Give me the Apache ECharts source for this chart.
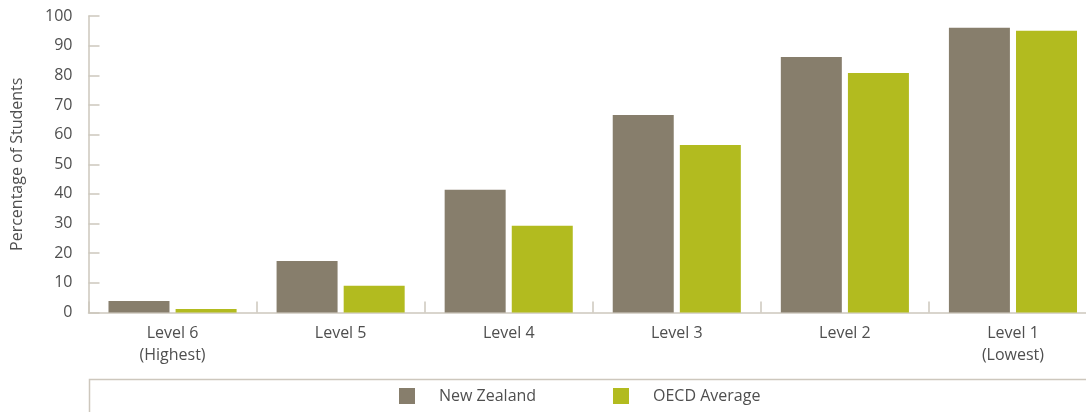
<!DOCTYPE html>
<html>
<head>
<meta charset="utf-8">
<script src="https://cdn.jsdelivr.net/npm/echarts@6/dist/echarts.min.js"></script>
<style>
  html, body { margin: 0; padding: 0; background: #ffffff; overflow: hidden; }
  #chart { width: 1086px; height: 412px; }
</style>
</head>
<body>
<div id="chart"></div>
<script>
// Proficiency levels, highest to lowest
const categories = ['Level 6\n(Highest)', 'Level 5', 'Level 4', 'Level 3', 'Level 2', 'Level 1\n(Lowest)'];
// Cumulative percentage of students at or above each level
const newZealand = [3.9, 17.4, 41.4, 66.6, 86.2, 96.0];
const oecdAverage = [1.2, 9.0, 29.3, 56.5, 80.8, 95.0];
const seriesNames = ['New Zealand', 'OECD Average'];
const yTicks = { min: 0, max: 100, interval: 10 };

const axisColor = '#cdc7bd';
const textColor = '#4f4f4f';
const font = '"Open Sans", sans-serif';
const fontSize = 16;

const chart = echarts.init(document.getElementById('chart'), null, { renderer: 'canvas' });

chart.setOption({
  animation: false,
  textStyle: { fontFamily: font },
  // the plot area runs slightly past the right edge of the canvas
  grid: { left: 88.5, right: -11, top: 16, bottom: 99.5, outerBoundsMode: 'none', containLabel: false },
  legend: [
    {
      data: [seriesNames[0]], left: 399, top: 388, padding: 0,
      itemWidth: 16, itemHeight: 16, icon: 'rect',
      textStyle: { color: textColor, fontSize: fontSize, fontFamily: font, padding: [0, 0, 0, 19] }
    },
    {
      data: [seriesNames[1]], left: 613, top: 388, padding: 0,
      itemWidth: 16, itemHeight: 16, icon: 'rect',
      textStyle: { color: textColor, fontSize: fontSize, fontFamily: font, padding: [0, 0, 0, 19] }
    }
  ],
  graphic: [
    {
      type: 'polyline', silent: true,
      shape: { points: [[89.5, 412], [89.5, 379.5], [1086, 379.5]] },
      style: { stroke: axisColor, lineWidth: 1.5, fill: null }
    }
  ],
  xAxis: {
    type: 'category',
    data: categories,
    axisLine: { lineStyle: { color: axisColor, width: 1.5 } },
    axisTick: { show: true, inside: true, length: 11, lineStyle: { color: axisColor, width: 1.5 } },
    axisLabel: { color: textColor, fontSize: fontSize, lineHeight: 22, margin: 10, fontFamily: font }
  },
  yAxis: {
    type: 'value',
    min: yTicks.min, max: yTicks.max, interval: yTicks.interval,
    name: 'Percentage of Students',
    nameLocation: 'middle',
    nameGap: 63,
    nameRotate: 90,
    nameTextStyle: { color: textColor, fontSize: fontSize, fontFamily: font },
    axisLine: { show: true, lineStyle: { color: axisColor, width: 1.5 } },
    axisTick: { show: true, inside: true, length: 11, lineStyle: { color: axisColor, width: 1.5 } },
    axisLabel: { color: textColor, fontSize: fontSize, margin: 16, fontFamily: font },
    splitLine: { show: false }
  },
  series: [
    {
      name: seriesNames[0], type: 'bar', data: newZealand,
      barWidth: 61, barGap: '10%',
      itemStyle: { color: '#877e6c' }
    },
    {
      name: seriesNames[1], type: 'bar', data: oecdAverage,
      barWidth: 61, barGap: '10%',
      itemStyle: { color: '#b2bb1f' }
    }
  ]
});
</script>
</body>
</html>
